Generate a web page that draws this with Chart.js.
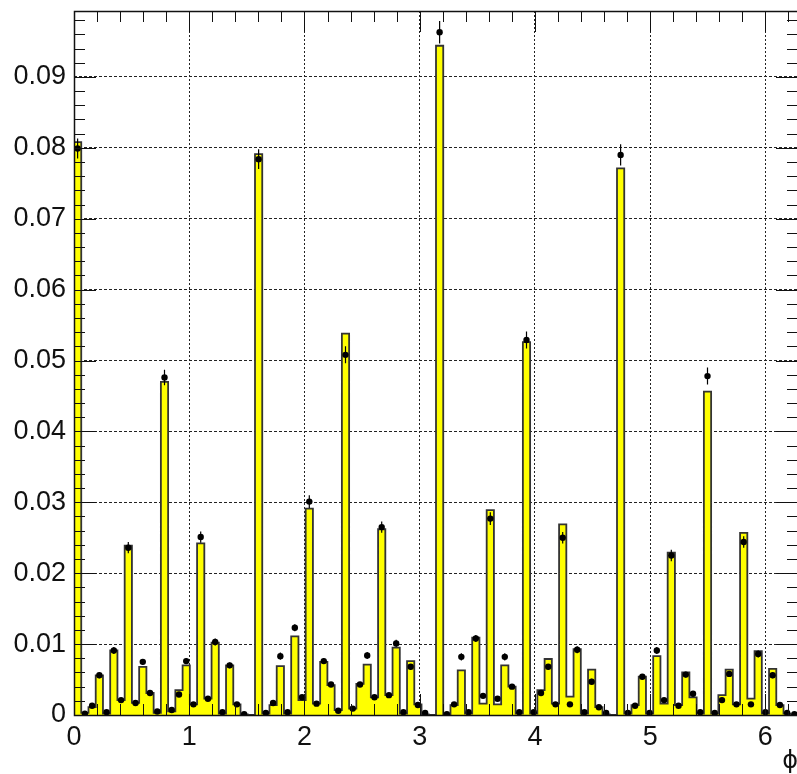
<!DOCTYPE html>
<html>
<head>
<meta charset="utf-8">
<script src="https://cdn.jsdelivr.net/npm/chart.js@4.4.0/dist/chart.umd.min.js"></script>
<style>
    html, body { margin: 0; padding: 0; background: #fff; overflow: hidden; }
    #wrap { width: 802px; height: 774px; }
</style>
</head>
<body>
<div id="wrap"><canvas id="phiChart" width="802" height="774"></canvas></div>
<script>
// histogram binning: 100 bins over [0, 2pi]
var nBins = 100;
var phiMin = 0;
var phiMax = 2 * Math.PI;

// bin contents of the yellow histogram
var histValues = [
    0.0808, 0.0003, 0.0011, 0.0056, 0.0002, 0.0091, 0.0021, 0.0239, 0.0017, 0.0068,
    0.0031, 0.0003, 0.0470, 0.0005, 0.0035, 0.0070, 0.0015, 0.0242, 0.0023, 0.0102,
    0.0002, 0.0070, 0.0015, 0.0001, 0.0000, 0.0791, 0.0002, 0.0014, 0.0069, 0.0002,
    0.0111, 0.0021, 0.0291, 0.0016, 0.0075, 0.0042, 0.0007, 0.0538, 0.0009, 0.0044,
    0.0071, 0.0025, 0.0262, 0.0028, 0.0095, 0.0002, 0.0076, 0.0015, 0.0001, 0.0000,
    0.0944, 0.0000, 0.0014, 0.0063, 0.0002, 0.0109, 0.0016, 0.0289, 0.0015, 0.0070,
    0.0040, 0.0002, 0.0526, 0.0002, 0.0035, 0.0079, 0.0016, 0.0269, 0.0026, 0.0093,
    0.0002, 0.0064, 0.0011, 0.0001, 0.0000, 0.0771, 0.0002, 0.0014, 0.0054, 0.0002,
    0.0083, 0.0016, 0.0229, 0.0014, 0.0060, 0.0025, 0.0002, 0.0456, 0.0002, 0.0028,
    0.0064, 0.0015, 0.0257, 0.0023, 0.0090, 0.0002, 0.0065, 0.0014, 0.0002, 0.0000
];

// black markers (null = empty bin, no marker)
var dataValues = [
    0.0799, 0.0002, 0.0013, 0.0056, 0.0004, 0.0091, 0.0021, 0.0236, 0.0017, 0.0075,
    0.0031, 0.0005, 0.0476, 0.0007, 0.0029, 0.0076, 0.0015, 0.0251, 0.0023, 0.0103,
    0.0004, 0.0070, 0.0015, 0.0001, null,   0.0784, 0.0003, 0.0017, 0.0083, 0.0004,
    0.0123, 0.0025, 0.0301, 0.0016, 0.0076, 0.0043, 0.0006, 0.0508, 0.0009, 0.0043,
    0.0084, 0.0025, 0.0265, 0.0028, 0.0101, 0.0004, 0.0068, 0.0014, 0.0003, null,
    0.0963, 0.0001, 0.0015, 0.0082, 0.0004, 0.0108, 0.0027, 0.0277, 0.0023, 0.0082,
    0.0040, 0.0004, 0.0529, 0.0004, 0.0031, 0.0068, 0.0015, 0.0250, 0.0015, 0.0092,
    0.0004, 0.0047, 0.0011, 0.0003, null,   0.0790, 0.0003, 0.0013, 0.0054, 0.0003,
    0.0091, 0.0021, 0.0225, 0.0013, 0.0057, 0.0030, 0.0004, 0.0478, 0.0003, 0.0021,
    0.0058, 0.0015, 0.0244, 0.0015, 0.0086, 0.0004, 0.0056, 0.0014, 0.0003, 0.0001
];

// vertical error bars on the markers
var dataErrors = [
    0.0014, 0.0001, 0.0002, 0.0004, 0.0001, 0.0005, 0.0003, 0.0008, 0.0002, 0.0004,
    0.0003, 0.0001, 0.0011, 0.0001, 0.0003, 0.0004, 0.0002, 0.0008, 0.0002, 0.0005,
    0.0001, 0.0004, 0.0002, 0.0001, 0.0000, 0.0014, 0.0001, 0.0002, 0.0005, 0.0001,
    0.0005, 0.0003, 0.0009, 0.0002, 0.0004, 0.0003, 0.0001, 0.0012, 0.0002, 0.0003,
    0.0005, 0.0003, 0.0008, 0.0003, 0.0005, 0.0001, 0.0004, 0.0002, 0.0001, 0.0000,
    0.0016, 0.0001, 0.0002, 0.0005, 0.0001, 0.0005, 0.0003, 0.0009, 0.0002, 0.0005,
    0.0003, 0.0001, 0.0012, 0.0001, 0.0003, 0.0004, 0.0002, 0.0008, 0.0002, 0.0005,
    0.0001, 0.0004, 0.0002, 0.0001, 0.0000, 0.0015, 0.0001, 0.0002, 0.0004, 0.0001,
    0.0005, 0.0002, 0.0008, 0.0002, 0.0004, 0.0003, 0.0001, 0.0012, 0.0001, 0.0002,
    0.0004, 0.0002, 0.0008, 0.0002, 0.0005, 0.0001, 0.0004, 0.0002, 0.0001, 0.0001
];

var yMax = 0.0993;
var xTitle = 'ϕ';
var tickFont = { family: 'Liberation Sans, Arial, Helvetica, sans-serif', size: 27 };

var binWidth = (phiMax - phiMin) / nBins;

// step outline: one point per lower bin edge, closed down to the axis
var histPoints = [{ x: phiMin, y: 0 }];
for (var i = 0; i < nBins; i++) {
    histPoints.push({ x: phiMin + i * binWidth, y: histValues[i] });
}
histPoints.push({ x: phiMax, y: histValues[nBins - 1] });
histPoints.push({ x: phiMax, y: 0 });

var markerPoints = [];
for (var j = 0; j < nBins; j++) {
    markerPoints.push({ x: phiMin + (j + 0.5) * binWidth, y: dataValues[j] });
}

// error bars + ROOT-like frame with inward ticks
var rootFrame = {
    id: 'rootFrame',
    afterDatasetsDraw: function(chart) {
        var ctx = chart.ctx;
        var a = chart.chartArea;
        var xs = chart.scales.x;
        var ys = chart.scales.y;
        ctx.save();
        ctx.strokeStyle = '#000';
        ctx.lineWidth = 1.2;

        ctx.beginPath();
        for (var k = 0; k < nBins; k++) {
            if (dataValues[k] === null || !dataErrors[k]) continue;
            var px = xs.getPixelForValue(markerPoints[k].x);
            ctx.moveTo(px, ys.getPixelForValue(dataValues[k] - dataErrors[k]));
            ctx.lineTo(px, ys.getPixelForValue(dataValues[k] + dataErrors[k]));
        }
        ctx.stroke();

        ctx.lineWidth = 1;
        ctx.strokeStyle = '#111';
        ctx.beginPath();
        for (var t = 0; t * 0.2 <= phiMax; t++) {
            var tx = Math.round(xs.getPixelForValue(t * 0.2)) + 0.5;
            var tl = (t % 5 === 0) ? 21 : 11;
            ctx.moveTo(tx, a.bottom); ctx.lineTo(tx, a.bottom - tl);
            ctx.moveTo(tx, a.top); ctx.lineTo(tx, a.top + tl);
        }
        for (var s = 0; s * 0.002 <= yMax; s++) {
            var ty = Math.round(ys.getPixelForValue(s * 0.002)) + 0.5;
            var yl = (s % 5 === 0) ? 22 : 11;
            ctx.moveTo(a.left, ty); ctx.lineTo(a.left + yl, ty);
            ctx.moveTo(a.right, ty); ctx.lineTo(a.right - yl, ty);
        }
        ctx.stroke();

        ctx.lineWidth = 1.5;
        ctx.strokeRect(Math.round(a.left) + 0.5, Math.round(a.top) + 0.5,
            Math.round(a.right - a.left), Math.round(a.bottom - a.top));
        ctx.restore();
    }
};

var ctx = document.getElementById('phiChart').getContext('2d');
var phiChart = new Chart(ctx, {
    type: 'line',
    data: {
        datasets: [{
            label: 'data',
            data: markerPoints,
            showLine: false,
            pointRadius: 3.2,
            pointBackgroundColor: '#000',
            pointBorderColor: '#000',
            pointBorderWidth: 0
        }, {
            label: 'histogram',
            data: histPoints,
            stepped: true,
            fill: 'origin',
            backgroundColor: '#ffff00',
            borderColor: '#333',
            borderWidth: 1.8,
            pointRadius: 0,
            tension: 0
        }]
    },
    options: {
        responsive: false,
        animation: false,
        layout: { padding: { top: 11, right: 3, left: 0, bottom: 0 } },
        plugins: {
            legend: { display: false },
            tooltip: { enabled: false }
        },
        scales: {
            x: {
                type: 'linear',
                min: phiMin,
                max: phiMax,
                afterFit: function(scale) {
                    scale.height = 59;
                    scale.paddingLeft = 0;
                    scale.paddingRight = 0;
                },
                grid: { color: '#222', lineWidth: 1, drawTicks: false },
                border: { display: false, dash: [2, 2] },
                ticks: {
                    stepSize: 1,
                    includeBounds: false,
                    autoSkip: false,
                    maxRotation: 0,
                    padding: 6,
                    color: '#111',
                    font: tickFont,
                    callback: function(v) { return String(v); }
                },
                title: {
                    display: true,
                    text: xTitle,
                    align: 'end',
                    color: '#111',
                    padding: 0,
                    font: { family: 'DejaVu Sans, sans-serif', size: 24, lineHeight: 1 }
                }
            },
            y: {
                min: 0,
                max: yMax,
                afterFit: function(scale) {
                    scale.width = 74;
                    scale.paddingTop = 0;
                    scale.paddingBottom = 0;
                },
                grid: { color: '#222', lineWidth: 1, drawTicks: false },
                border: { display: false, dash: [3, 2] },
                ticks: {
                    stepSize: 0.01,
                    includeBounds: false,
                    padding: 8,
                    color: '#111',
                    font: tickFont,
                    callback: function(v) { return v === 0 ? '0' : v.toFixed(2); }
                }
            }
        }
    },
    plugins: [rootFrame]
});
</script>
</body>
</html>
